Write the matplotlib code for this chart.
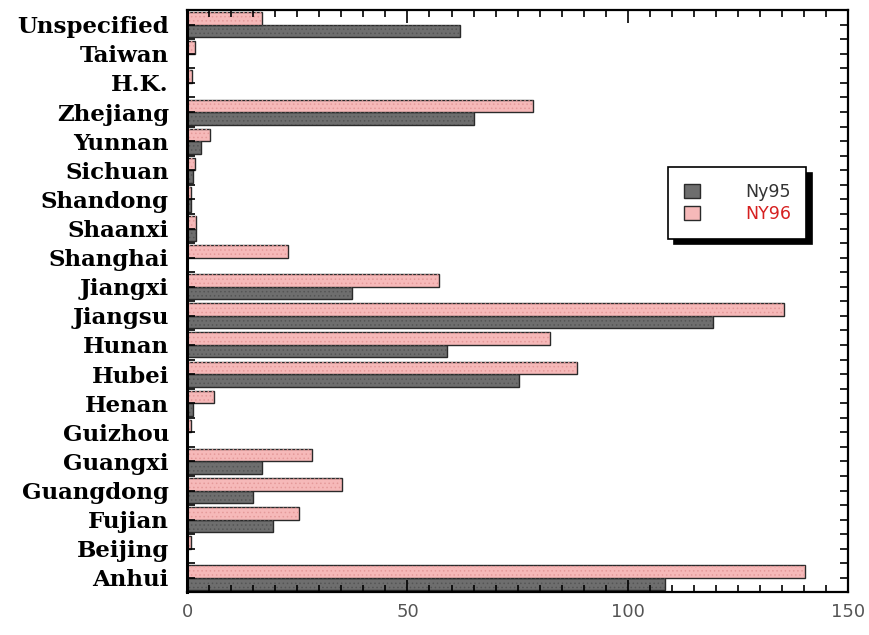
import matplotlib

matplotlib.use("Agg")
import matplotlib.pyplot as plt
import numpy as np
from matplotlib.ticker import MultipleLocator

# categories listed bottom -> top, as drawn on the y axis
provinces = ["Anhui", "Beijing", "Fujian", "Guangdong", "Guangxi", "Guizhou",
             "Henan", "Hubei", "Hunan", "Jiangsu", "Jiangxi", "Shanghai",
             "Shaanxi", "Shandong", "Sichuan", "Yunnan", "Zhejiang", "H.K.",
             "Taiwan", "Unspecified"]
ny95 = [108.5, 0, 19.5, 15, 17, 0, 1.3, 75.3, 59, 119.4, 37.5, 0,
        2, 1, 1.3, 3.2, 65, 0, 0, 62]
ny96 = [140.2, 1, 25.4, 35.2, 28.4, 1, 6.2, 88.5, 82.4, 135.5, 57.2, 23,
        2, 1, 1.8, 5.2, 78.5, 1.2, 1.8, 17]
series_labels = ["Ny95", "NY96"]
xticks = [0, 50, 100, 150]

GRAY = "#6e6e6e"
PINK = "#f6b9b9"
EDGE = "#2a2a2a"

plt.rcParams["hatch.linewidth"] = 0.6

fig = plt.figure(figsize=(8.7, 6.35), dpi=100)
ax = fig.add_axes([0.215, 0.068, 0.76, 0.916])

y = np.arange(len(provinces))
h = 0.43

# Ny95 below the category centre, NY96 above
b95 = ax.barh(y - h / 2, ny95, height=h, color=GRAY, edgecolor=EDGE, lw=1.0,
              label=series_labels[0])
b96 = ax.barh(y + h / 2, ny96, height=h, color=PINK, edgecolor=EDGE, lw=1.0,
              label=series_labels[1])
# dotted texture on top of the fills
ax.barh(y - h / 2, ny95, height=h, facecolor="none", edgecolor="#555555",
        lw=0, hatch="....")
ax.barh(y + h / 2, ny96, height=h, facecolor="none", edgecolor="#e49a9a",
        lw=0, hatch="....")

ax.set_xlim(0, 150)
ax.set_ylim(-0.48, len(provinces) - 0.59)

ax.set_xticks(xticks)
ax.xaxis.set_minor_locator(MultipleLocator(5))
ax.set_xticklabels([str(t) for t in xticks], fontsize=13, color="#555555",
                   family="DejaVu Sans")
ax.tick_params(axis="x", which="major", direction="in", length=9, width=1.2,
               top=True, pad=8)
ax.tick_params(axis="x", which="minor", direction="in", length=5, width=1.2,
               top=True)

ax.set_yticks(y)
ax.set_yticks(y + 0.5, minor=True)
ax.set_yticklabels(provinces, fontsize=16.5, fontweight="bold",
                   family="DejaVu Serif")
ax.tick_params(axis="y", which="both", direction="in", length=6, width=1.2,
               right=True, pad=13)

for s in ax.spines.values():
    s.set_linewidth(1.6)
ax.spines["left"].set_linewidth(2.2)

leg = ax.legend(handles=[b95, b96], loc="upper left",
                bbox_to_anchor=(0.728, 0.73), frameon=True, fancybox=False,
                edgecolor="black", labelcolor=["#333333", "#d62020"],
                handlelength=0.9, handleheight=0.9, handletextpad=2.6,
                borderpad=0.9, labelspacing=0.25, borderaxespad=0,
                shadow={"color": "black", "alpha": 1, "ox": 4, "oy": -4},
                prop={"family": "DejaVu Sans", "size": 12.5})
leg.get_frame().set_linewidth(1.2)

fig.savefig("out.png", dpi=100)
